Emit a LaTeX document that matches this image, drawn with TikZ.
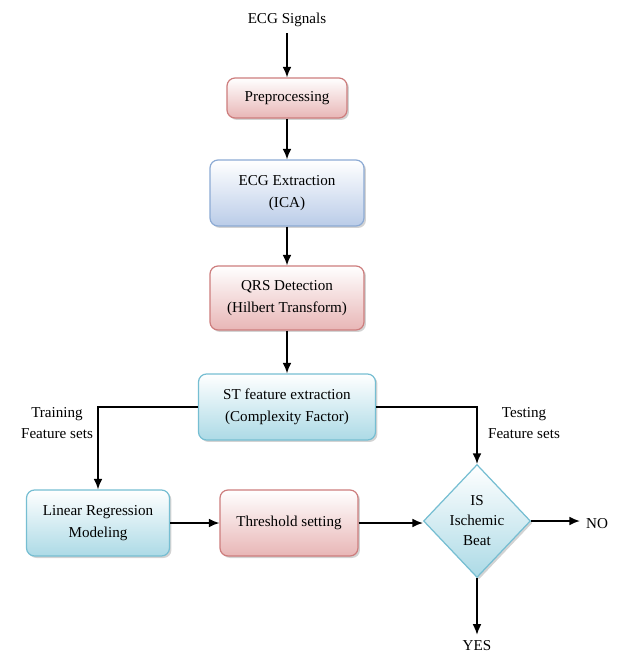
\documentclass[tikz,border=0pt]{standalone}
\usepackage{fontspec}
\setmainfont{Liberation Serif}
\usetikzlibrary{shapes.geometric,shadows,arrows.meta}
\definecolor{pinkline}{RGB}{205,125,125}
\definecolor{pinkfill}{RGB}{232,182,182}
\definecolor{blueline}{RGB}{140,170,212}
\definecolor{bluefill}{RGB}{186,204,232}
\definecolor{cyanline}{RGB}{118,190,210}
\definecolor{cyanfill}{RGB}{172,218,230}
\begin{document}
\begin{tikzpicture}[x=0.02cm,y=-0.02cm,font=\fontsize{8.6}{10.4}\selectfont]

    \tikzset{
      box/.style={
        draw,
        rounded corners=0.16cm,
        line width=0.7pt,
        align=center,
        inner sep=0pt,
        top color=white,
        drop shadow={shadow xshift=0.04cm,shadow yshift=-0.04cm,opacity=0.35},
      },
      pinkbox/.style={box,draw=pinkline,bottom color=pinkfill},
      bluebox/.style={box,draw=blueline,bottom color=bluefill},
      cyanbox/.style={box,draw=cyanline,bottom color=cyanfill},
      link/.style={line width=0.8pt,-{Latex[length=6pt,width=5pt]}},
    }
    \useasboundingbox (0,0) rectangle (619,653);

    \node (sig) at (287,20) {ECG Signals};
    \node[pinkbox,minimum width=2.4cm,minimum height=0.8cm] (pre) at (287,98) {Preprocessing};
    \node[bluebox,minimum width=3.08cm,minimum height=1.32cm] (ica) at (287,193) {ECG Extraction\\[2pt](ICA)};
    \node[pinkbox,minimum width=3.08cm,minimum height=1.28cm] (qrs) at (287,298) {QRS Detection\\[2pt](Hilbert Transform)};
    \node[cyanbox,minimum width=3.54cm,minimum height=1.32cm] (st) at (287,407) {ST feature extraction\\[2pt](Complexity Factor)};
    \node[cyanbox,minimum width=2.86cm,minimum height=1.32cm] (lrm) at (98,523) {Linear Regression\\[2pt]Modeling};
    \node[pinkbox,minimum width=2.76cm,minimum height=1.32cm] (thr) at (289,523) {Threshold setting};
    \node[cyanbox,diamond,rounded corners=0pt,minimum width=2.14cm,minimum height=2.26cm] (beat) at (477,521) {IS\\[1pt]Ischemic\\[1pt]Beat};

    \node[align=center] (train) at (57,423) {Training\\[2pt]Feature sets};
    \node[align=center] (test) at (524,423) {Testing\\[2pt]Feature sets};
    \node (no) at (597,524) {NO};
    \node (yes) at (477,646) {YES};

    \draw[link] (sig) -- (pre);
    \draw[link] (pre) -- (ica);
    \draw[link] (ica) -- (qrs);
    \draw[link] (qrs) -- (st);
    \draw[link] (st.west) -| (lrm.north);
    \draw[link] (st.east) -| (beat.north);
    \draw[link] (lrm) -- (thr);
    \draw[link] (thr) -- (beat.west |- thr.east);
    \draw[link] (beat.east) -- (no.west |- beat.east);
    \draw[link] (beat.south) -- (yes.north);

\end{tikzpicture}
\end{document}
